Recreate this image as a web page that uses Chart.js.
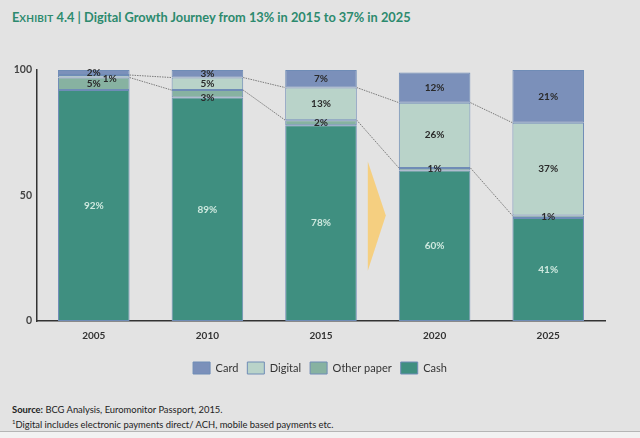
<!DOCTYPE html>
<html>
<head>
<meta charset="utf-8">
<script src="https://cdn.jsdelivr.net/npm/chart.js@4/dist/chart.umd.min.js"></script>
<style>
  html, body { margin: 0; padding: 0; background: #e3e3e3; }
  body { width: 640px; height: 438px; position: relative; overflow: hidden; font-family: Lato, "Open Sans", sans-serif; }
  #title { position: absolute; left: 12px; top: 9px; font-weight: bold; font-size: 12.8px; color: #2c8a6e; white-space: nowrap; }
  #title .sc { font-size: 10px; letter-spacing: 0.2px; }
  #wrap { position: absolute; left: 0; top: 0; width: 640px; height: 400px; }
  #foot { position: absolute; left: 12px; top: 404px; font-size: 9.4px; line-height: 11.5px; color: #222; white-space: nowrap; }
  #rule { position: absolute; left: 0; top: 431px; width: 640px; height: 1px; background: #b5b5b5; }
  #below { position: absolute; left: 0; top: 432px; width: 640px; height: 6px; background: #f2f2f2; }
</style>
</head>
<body>
<div id="title">E<span class="sc">XHIBIT</span> 4.4 | Digital Growth Journey from 13% in 2015 to 37% in 2025</div>
<div id="wrap"><canvas id="c" width="640" height="400"></canvas></div>
<div id="foot"><b>Source:</b> BCG Analysis, Euromonitor Passport, 2015.<br><sup style="font-size:6px">1</sup>Digital includes electronic payments direct/ ACH, mobile based payments etc.</div>
<div id="rule"></div>
<div id="below"></div>
<script>
const years = ['2005', '2010', '2015', '2020', '2025'];
const cash = [92, 89, 78, 60, 41];
const otherPaper = [5, 3, 2, 1, 1];
const digital = [1, 5, 13, 26, 37];
const card = [2, 3, 7, 12, 21];
const yTicks = [0, 50, 100];

const colors = { cash: '#3f8f80', other: '#87b2a1', digital: '#b9d3c9', card: '#7b90ba' };
const border = '#6f8cb6';

// small-label nudges (dataset index -> category index -> [dx, dy])
const nudges = { 1: { 1: [0, 4] }, 2: { 0: [16, 3] } };

const labelsPlugin = {
  id: 'segLabels',
  afterDatasetsDraw(chart) {
    const ctx = chart.ctx;
    ctx.save();
    ctx.textAlign = 'center';
    ctx.textBaseline = 'middle';
    ctx.font = 'bold 10px Lato, "Open Sans", sans-serif';
    chart.data.datasets.forEach((ds, di) => {
      const meta = chart.getDatasetMeta(di);
      meta.data.forEach((el, i) => {
        const v = ds.data[i];
        const cy = (el.y + el.base) / 2;
        let dx = 0, dy = 0;
        if (nudges[di] && nudges[di][i]) { dx = nudges[di][i][0]; dy = nudges[di][i][1]; }
        ctx.fillStyle = di === 0 ? '#cfe9df' : '#2a2a2a';
        ctx.fillText(v + '%', el.x + dx, cy + dy);
      });
    });
    ctx.restore();
  }
};

const legendShift = {
  id: 'legendShift',
  afterUpdate(chart) {
    if (chart.legend) { chart.legend.left += 17.5; chart.legend.right += 17.5; }
  }
};

const decoPlugin = {
  id: 'deco',
  beforeDatasetsDraw(chart) {
    const ctx = chart.ctx;
    const xs = chart.scales.x, ys = chart.scales.y;
    const mid = xs.getPixelForValue(2.5);
    ctx.save();
    ctx.fillStyle = '#f5cf80';
    ctx.beginPath();
    ctx.moveTo(mid - 10, ys.getPixelForValue(63.5));
    ctx.lineTo(mid + 8, ys.getPixelForValue(42));
    ctx.lineTo(mid - 10, ys.getPixelForValue(20));
    ctx.closePath();
    ctx.fill();
    ctx.restore();
  },
  afterDatasetsDraw(chart) {
    const ctx = chart.ctx;
    ctx.save();
    ctx.strokeStyle = '#7a7a7a';
    ctx.lineWidth = 1;
    ctx.setLineDash([1.5, 1]);
    [1, 2].forEach(di => {
      const meta = chart.getDatasetMeta(di);
      for (let i = 0; i < meta.data.length - 1; i++) {
        const a = meta.data[i], b = meta.data[i + 1];
        ctx.beginPath();
        ctx.moveTo(a.x + a.width / 2, a.y);
        ctx.lineTo(b.x - b.width / 2, b.y);
        ctx.stroke();
      }
    });
    ctx.restore();
  }
};

new Chart(document.getElementById('c'), {
  type: 'bar',
  data: {
    labels: years,
    datasets: [
      { label: 'Cash', data: cash, backgroundColor: colors.cash },
      { label: 'Other paper', data: otherPaper, backgroundColor: colors.other },
      { label: 'Digital', data: digital, backgroundColor: colors.digital },
      { label: 'Card', data: card, backgroundColor: colors.card }
    ].map(d => Object.assign(d, { borderColor: border, borderWidth: 1, borderSkipped: false, barPercentage: 0.63, categoryPercentage: 1 }))
  },
  options: {
    responsive: false,
    animation: false,
    layout: { padding: { left: 0, right: 35, top: 70, bottom: 16 } },
    scales: {
      x: {
        stacked: true,
        grid: { display: false },
        border: { display: true, color: '#333', width: 1.5 },
        afterFit(s) { s.height += 10; },
        ticks: { color: '#333', font: { family: 'Lato', size: 10, weight: 'bold' }, padding: 1 }
      },
      y: {
        stacked: true,
        min: 0, max: 100,
        afterBuildTicks(s) { s.ticks = yTicks.map(v => ({ value: v })); },
        afterFit(s) { s.width = 37; },
        grid: { display: false, drawTicks: false, tickLength: 0 },
        border: { display: true, color: '#333', width: 1.5 },
        ticks: { color: '#444', font: { family: 'Lato', size: 10.5, weight: 'bold' }, padding: 5 }
      }
    },
    plugins: {
      legend: {
        position: 'bottom',
        reverse: true,
        labels: { boxWidth: 17, boxHeight: 12, color: '#333', font: { family: 'Lato', size: 11 }, padding: 9 }
      },
      tooltip: { enabled: false }
    }
  },
  plugins: [labelsPlugin, decoPlugin, legendShift]
});
</script>
</body>
</html>
